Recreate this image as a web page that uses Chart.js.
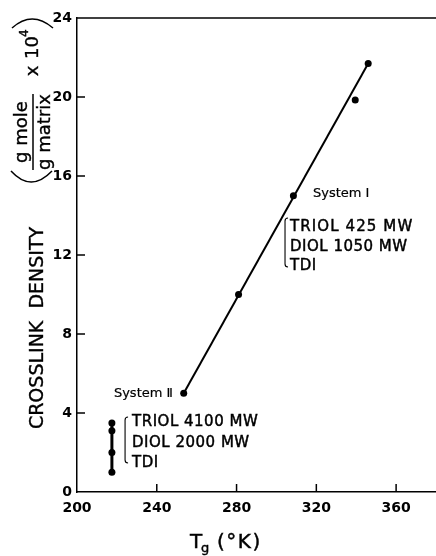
<!DOCTYPE html>
<html>
<head>
<meta charset="utf-8">
<script src="https://cdn.jsdelivr.net/npm/chart.js@4.4.1/dist/chart.umd.min.js"></script>
<style>
  html, body { margin: 0; padding: 0; background: #fff; }
  canvas { display: block; }
</style>
</head>
<body>
<canvas id="chart" width="436" height="556"></canvas>
<script>
// Glass transition temperature (K) vs crosslink density (g mole / g matrix x 10^4)
const systemITg = [253.5, 281, 308.5, 339.5, 346];
const systemIDensity = [5.0, 10.0, 15.0, 19.85, 21.7];

// straight line drawn through System I
const systemIFitTg = [253.5, 346];
const systemIFitDensity = [5.0, 21.7];

const systemIITg = [217.5, 217.5, 217.5, 217.5];
const systemIIDensity = [1.0, 2.0, 3.1, 3.5];

const xTicks = [200, 240, 280, 320, 360];
const yTicks = [0, 4, 8, 12, 16, 20, 24];

const systemILines = ['TRIOL 425 MW', 'DIOL 1050 MW', 'TDI'];
const systemIILines = ['TRIOL 4100 MW', 'DIOL 2000 MW', 'TDI'];

const FONT = '"DejaVu Sans", "Liberation Sans", sans-serif';
const INK = '#000';

const toPoints = (xs, ys) => xs.map((x, i) => ({ x, y: ys[i] }));

function drawText(ctx, str, x, y, size, align, baseline, spacing, weight) {
  ctx.font = size + 'px ' + FONT;
  ctx.textAlign = align || 'left';
  ctx.textBaseline = baseline || 'alphabetic';
  ctx.letterSpacing = (spacing || 0) + 'px';
  ctx.fillText(str, x, y);
  // thin outline gives the lettering a heavier stroke
  ctx.lineWidth = weight === undefined ? 0.45 : weight;
  if (ctx.lineWidth > 0.01) ctx.strokeText(str, x, y);
  ctx.letterSpacing = '0px';
}

function drawRotated(ctx, str, x, y, size, align) {
  ctx.save();
  ctx.translate(x, y);
  ctx.rotate(-Math.PI / 2);
  drawText(ctx, str, 0, 0, size, align, 'alphabetic', 0, 0.35);
  ctx.restore();
}

function segment(ctx, x1, y1, x2, y2) {
  ctx.beginPath();
  ctx.moveTo(x1, y1);
  ctx.lineTo(x2, y2);
  ctx.stroke();
}

function bracket(ctx, x, top, bottom) {
  ctx.beginPath();
  ctx.moveTo(x + 3, top);
  ctx.quadraticCurveTo(x, top, x, top + 3);
  ctx.lineTo(x, bottom - 3);
  ctx.quadraticCurveTo(x, bottom, x + 3, bottom);
  ctx.stroke();
}

const decorations = {
  id: 'decorations',
  afterDraw(chart) {
    const ctx = chart.ctx;
    const sx = chart.scales.x, sy = chart.scales.y;
    const area = chart.chartArea;
    ctx.save();
    ctx.strokeStyle = INK;
    ctx.fillStyle = INK;

    // top edge of the frame
    ctx.lineWidth = 1.5;
    segment(ctx, area.left, area.top, area.right, area.top);

    // tick marks pointing into the plot
    yTicks.forEach(v => {
      if (v === sy.min || v === sy.max) return;
      const y = sy.getPixelForValue(v);
      segment(ctx, area.left, y, area.left + 8, y);
    });
    xTicks.forEach(v => {
      if (v === sx.min) return;
      const x = sx.getPixelForValue(v);
      segment(ctx, x, area.bottom, x, area.bottom - 8);
    });

    // System I label and composition
    drawText(ctx, 'System \u2160', sx.getPixelForValue(318.3), sy.getPixelForValue(15.1), 13, 'left', 'middle', 0, 0.2);
    const bIx = sx.getPixelForValue(304.3), bIy = sy.getPixelForValue(13.87);
    ctx.lineWidth = 1.1;
    bracket(ctx, bIx, bIy, bIy + 49);
    [9, 29, 48].forEach((dy, i) => {
      drawText(ctx, systemILines[i], bIx + 5, bIy + dy, 15, 'left', 'middle', i === 0 ? 1.1 : 0.5);
    });

    // System II label and composition
    drawText(ctx, 'System \u2161', sx.getPixelForValue(248.1), sy.getPixelForValue(5.0), 13, 'right', 'middle', 0, 0.2);
    const bIIx = sx.getPixelForValue(224.1), bIIy = sy.getPixelForValue(3.8);
    ctx.lineWidth = 1.1;
    bracket(ctx, bIIx, bIIy, bIIy + 46);
    [5, 26, 46].forEach((dy, i) => {
      drawText(ctx, systemIILines[i], bIIx + 7, bIIy + dy, 15, 'left', 'middle', 0.5);
    });

    // x axis title: T_g (°K)
    drawText(ctx, 'T', 190, 548, 20, 'left');
    drawText(ctx, 'g', 201, 552, 13, 'left');
    drawText(ctx, '(\u00B0K)', 217, 548, 20, 'left', 'alphabetic', 1.5);

    // y axis title
    drawRotated(ctx, 'CROSSLINK  DENSITY', 43, 328, 19, 'center');

    // units: ( g mole / g matrix  x 10^4 )
    drawRotated(ctx, 'g mole', 27, 132, 18, 'center');
    drawRotated(ctx, 'g matrix', 50, 132, 18, 'center');
    ctx.lineWidth = 1.5;
    segment(ctx, 33, 170, 33, 94);
    drawRotated(ctx, 'x', 38, 71, 18, 'center');
    drawRotated(ctx, '10', 38, 59, 18, 'left');
    drawRotated(ctx, '4', 28, 37, 12, 'left');
    ctx.lineWidth = 1.5;
    ctx.beginPath();
    ctx.moveTo(11, 171);
    ctx.quadraticCurveTo(31, 193, 52, 171);
    ctx.stroke();
    ctx.beginPath();
    ctx.moveTo(12, 28);
    ctx.quadraticCurveTo(32, 10, 53, 28);
    ctx.stroke();

    ctx.restore();
  }
};

new Chart(document.getElementById('chart'), {
  type: 'scatter',
  data: {
    datasets: [
      {
        label: 'System I fit',
        data: toPoints(systemIFitTg, systemIFitDensity),
        showLine: true,
        borderColor: INK,
        borderWidth: 2,
        pointRadius: 0,
        fill: false
      },
      {
        label: 'System I',
        data: toPoints(systemITg, systemIDensity),
        showLine: false,
        pointRadius: 3.5,
        pointBackgroundColor: INK,
        pointBorderColor: INK,
        pointBorderWidth: 0
      },
      {
        label: 'System II',
        data: toPoints(systemIITg, systemIIDensity),
        showLine: true,
        borderColor: INK,
        borderWidth: 3,
        pointRadius: 3.5,
        pointBackgroundColor: INK,
        pointBorderColor: INK,
        pointBorderWidth: 0
      }
    ]
  },
  options: {
    responsive: false,
    animation: false,
    devicePixelRatio: 1,
    layout: { autoPadding: false, padding: { top: 18, right: 0, bottom: 0, left: 0 } },
    plugins: {
      legend: { display: false },
      tooltip: { enabled: false }
    },
    scales: {
      x: {
        type: 'linear',
        min: 200,
        max: 380,
        afterBuildTicks: s => { s.ticks = xTicks.map(v => ({ value: v })); },
        afterFit: s => { s.height = 64; s.paddingLeft = 0; s.paddingRight = 0; },
        grid: { display: false, drawTicks: false },
        border: { display: true, color: INK, width: 1.5 },
        ticks: {
          autoSkip: false,
          maxRotation: 0,
          padding: 8,
          color: INK,
          font: { family: FONT, size: 14, weight: 'bold' }
        }
      },
      y: {
        type: 'linear',
        min: 0,
        max: 24,
        afterBuildTicks: s => { s.ticks = yTicks.map(v => ({ value: v })); },
        afterFit: s => { s.width = 77; s.paddingTop = 0; s.paddingBottom = 0; },
        grid: { display: false, drawTicks: false },
        border: { display: true, color: INK, width: 1.5 },
        ticks: {
          autoSkip: false,
          padding: 5,
          color: INK,
          font: { family: FONT, size: 14, weight: 'bold' }
        }
      }
    }
  },
  plugins: [decorations]
});
</script>
</body>
</html>
